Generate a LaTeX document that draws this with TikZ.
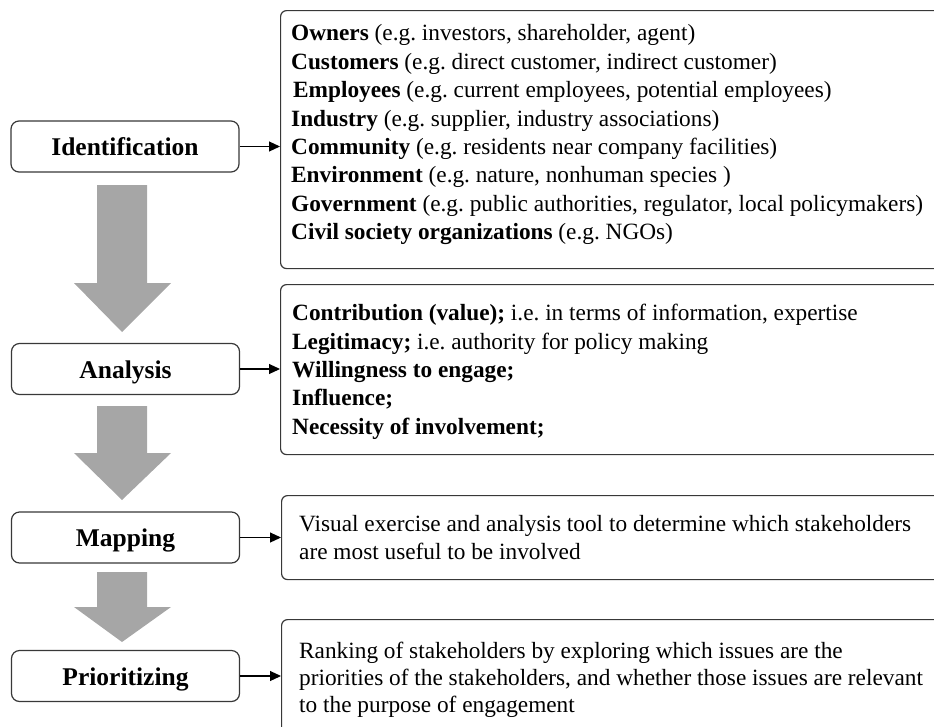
\documentclass[tikz,border=0pt]{standalone}
\usepackage{fontspec}
\setmainfont{Liberation Serif}
\usetikzlibrary{positioning,arrows.meta}
\definecolor{flowgray}{HTML}{A6A6A6}
\definecolor{edge}{HTML}{383838}
\frenchspacing

\begin{document}
\begin{tikzpicture}[x=1pt,y=-1pt,
  stagebox/.style = {draw=edge, line width=1.2pt, rounded corners=8pt, minimum width=228pt, minimum height=51pt, inner sep=0pt, text height=18pt, text depth=0pt, font=\fontsize{25.5}{30}\selectfont\bfseries},
  info/.style = {draw=edge, line width=1.2pt, rounded corners=6pt, anchor=north west, minimum width=670pt, inner sep=0pt},
  infotext/.style = {align=left, inner sep=0pt, font=\fontsize{23.3}{28.4}\selectfont},
  link/.style = {draw=black, line width=1.1pt, -{Triangle[length=11pt,width=10pt]}}]
\useasboundingbox (0,0) rectangle (934,726);
\clip (0,0) rectangle (934,726);

% stages on the left
\node[stagebox] (ident) at (125,146.5) {Identification};
\node[stagebox] (anal) at (125.5,369) {Analysis};
\node[stagebox] (mapp) at (125.5,537.5) {Mapping};
\node[stagebox] (prio) at (125.5,676) {Prioritizing};

% big gray arrows between the stages
\foreach \top/\neck/\tip in {185/283/332, 406/453/500, 572/607/642}
  \fill[flowgray] (97,\top) -- (147,\top) -- (147,\neck) -- (171,\neck)
    -- (122,\tip) -- (74,\neck) -- (97,\neck) -- cycle;

% boxes on the right
\node[info, minimum height=258pt] (stake) at (280,10) {};
\node[info, minimum height=170pt] (crit) at (280,284) {};
\node[info, minimum height=84pt] (visual) at (281,495) {};
\node[info, minimum height=140pt] (rank) at (281,619) {};

\node[infotext, below right=14.5pt and 11pt of stake.north west] (stakelist) {%
  \textbf{Owners} (e.g. investors, shareholder, agent)\\
  \textbf{Customers} (e.g. direct customer, indirect customer)\\
  \hspace{2pt}\textbf{Employees} (e.g. current employees, potential employees)\\
  \textbf{Industry} (e.g. supplier, industry associations)\\
  \textbf{Community} (e.g. residents near company facilities)\\
  \textbf{Environment} (e.g. nature, nonhuman species )\\
  \textbf{Government} (e.g. public authorities, regulator, local policymakers)\\
  \textbf{Civil society organizations} (e.g. NGOs)};
\node[infotext, below right=20pt and 12pt of crit.north west] (critlist) {%
  \textbf{Contribution (value);} i.e. in terms of information, expertise\\
  \textbf{Legitimacy;} i.e. authority for policy making\\
  \textbf{Willingness to engage;}\\
  \textbf{Influence;}\\
  \textbf{Necessity of involvement;}};
\node[infotext, below right=20pt and 18pt of visual.north west] (visualtext) {%
  Visual exercise and analysis tool to determine which stakeholders\\
  are most useful to be involved};
\node[infotext, below right=23pt and 18pt of rank.north west, font=\fontsize{23.3}{27}\selectfont] (ranktext) {%
  Ranking of stakeholders by exploring which issues are the\\
  priorities of the stakeholders, and whether those issues are relevant\\
  to the purpose of engagement};

% links
\draw[link] (ident.east) -- (ident.east -| stake.west);
\draw[link] (anal.east) -- (anal.east -| crit.west);
\draw[link] (mapp.east) -- (mapp.east -| visual.west);
\draw[link] (prio.east) -- (prio.east -| rank.west);
\end{tikzpicture}
\end{document}
